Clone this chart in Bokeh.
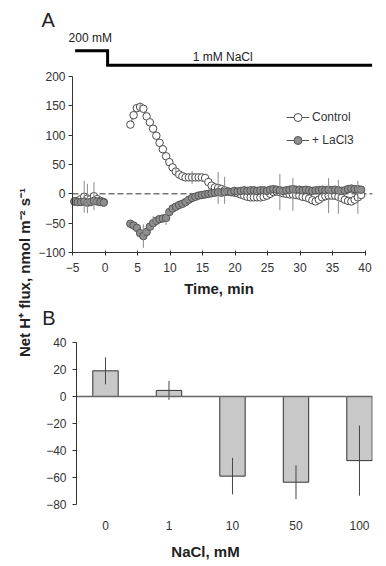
import numpy as np
from math import pi
from bokeh.plotting import figure
from bokeh.models import Range1d, FixedTicker, Label, Legend, LegendItem
from bokeh.layouts import row, column
from bokeh.core.properties import value
from bokeh.embed import file_html
from bokeh.resources import INLINE

FONT = "Liberation Sans"

# ---------------- Panel A data (time course) ----------------
time_pre = [-4.7, -4.2, -3.7, -3.2, -2.7, -2.2, -1.7, -1.2, -0.7, -0.2]
control_pre = [-13, -12, -9, -5, -8, -9, -4, -9, -12, -14]
lacl3_pre = [-13, -14, -14, -13, -15, -14, -12, -13, -14, -15]

time_post = [3.9, 4.4, 4.9, 5.4, 5.9, 6.4, 6.9, 7.4, 7.9, 8.4, 8.9, 9.4, 9.9, 10.4,
             10.9, 11.4, 11.9, 12.4, 12.9, 13.4, 13.9, 14.4, 14.9, 15.4, 15.9, 16.4,
             16.9, 17.4, 17.9, 18.4, 18.9, 19.4, 19.9, 20.4, 20.9, 21.4, 21.9, 22.4,
             22.9, 23.4, 23.9, 24.4, 24.9, 25.4, 25.9, 26.4, 26.9, 27.4, 27.9, 28.4,
             28.9, 29.4, 29.9, 30.4, 30.9, 31.4, 31.9, 32.4, 32.9, 33.4, 33.9, 34.4,
             34.9, 35.4, 35.9, 36.4, 36.9, 37.4, 37.9, 38.4, 38.9, 39.4]
control_post = [118, 134, 146, 148, 145, 132, 122, 111, 99, 87, 76, 64, 54, 45,
                38, 33, 30, 28, 28, 28, 28, 28, 28, 27, 20, 14,
                11, 10, 8, 6, 4, 3, 2, 1, -1, -3, -5, -6,
                -6, -6, -6, -5, -3, 0, 3, 4, 3, 1, 0, -1,
                -1, -2, -3, -5, -6, -8, -11, -13, -10, -6, -4, -3,
                -3, -3, -5, -7, -10, -12, -13, -10, -6, -2]
lacl3_post = [-51, -54, -58, -67, -72, -65, -56, -50, -46, -43, -42, -41, -31, -25,
              -22, -19, -17, -14, -10, -7, -5, -3, -2, -1, 0, 1,
              2, 3, 2, 3, 4, 3, 5, 4, 5, 6, 5, 6,
              6, 5, 6, 6, 5, 7, 8, 7, 6, 5, 6, 7,
              8, 7, 7, 6, 7, 6, 5, 6, 6, 7, 6, 7,
              6, 7, 6, 5, 6, 8, 9, 8, 8, 7]

# sparse error bars (time, SD)
control_err_time = [-3.2, -2.7, -1.7, 5.4, 10.9, 13.4, 17.4, 18.4, 26.9, 28.9, 34.4, 35.9, 38.9]
control_err_sd = [27, 25, 24, 8, 7, 11, 27, 23, 31, 28, 30, 29, 28]
lacl3_err_time = [5.9, 7.4, 9.4, 12.4]
lacl3_err_sd = [20, 12, 12, 8]

time_ticks = [-5, 0, 5, 10, 15, 20, 25, 30, 35, 40]
flux_ticks_a = [-100, -50, 0, 50, 100, 150, 200]

# treatment bar: 200 mM until t=0, then 1 mM NaCl
treat_t = [-4.6, 0.4, 0.4, 41.1]
treat_level = [244, 244, 219, 219]

# ---------------- Panel B data (bars) ----------------
nacl_mM = ["0", "1", "10", "50", "100"]
flux_b = [19, 4.5, -59, -63.5, -47.5]
flux_b_sd = [10, 7, 13.5, 12.5, 26]
flux_ticks_b = [-80, -60, -40, -20, 0, 20, 40]

AX = "#333333"
TXT = "#333333"


def style_axis(ax, size="12px"):
    ax.major_label_text_font = FONT
    ax.major_label_text_font_size = size
    ax.major_label_text_color = TXT
    ax.axis_line_color = AX
    ax.major_tick_line_color = AX
    ax.minor_tick_line_color = None
    ax.axis_label_text_font = FONT
    ax.axis_label_text_font_size = "15px"
    ax.axis_label_text_font_style = "bold"
    ax.axis_label_text_color = "#222222"


def with_gap(t, v):
    t = list(t); v = list(v)
    out_t, out_v = [t[0]], [v[0]]
    for i in range(1, len(t)):
        if t[i] - t[i - 1] > 1.5:
            out_t.append(np.nan); out_v.append(np.nan)
        out_t.append(t[i]); out_v.append(v[i])
    return out_t, out_v


def err_bars(t, v, et, esd):
    t = np.array(t, float)
    c = np.array([v[int(np.argmin(np.abs(t - x)))] for x in et], float)
    s = np.array(esd, float)
    return list(et), list(c - s), list(c + s)


# ---------------- Figure A ----------------
XA0, XA1 = -10.23, 41.15
pA = figure(width=340, height=302, x_range=Range1d(XA0, XA1), y_range=Range1d(-185.2, 329.5),
            output_backend="svg", toolbar_location=None,
            min_border_left=0, min_border_right=6, min_border_top=0, min_border_bottom=0,
            outline_line_color=None, background_fill_color="white", border_fill_color="white")
pA.grid.visible = False
pA.xaxis.ticker = FixedTicker(ticks=time_ticks)
pA.xaxis.bounds = (time_ticks[0], time_ticks[-1])
pA.xaxis.fixed_location = flux_ticks_a[0]
pA.yaxis.ticker = FixedTicker(ticks=flux_ticks_a)
pA.yaxis.bounds = (flux_ticks_a[0], flux_ticks_a[-1])
pA.yaxis.fixed_location = time_ticks[0]
style_axis(pA.xaxis[0]); style_axis(pA.yaxis[0])
pA.xaxis.axis_label = "Time, min"
pA.xaxis.major_tick_out = 3
pA.xaxis.major_tick_in = 2
pA.xaxis.major_label_standoff = 7
pA.xaxis.axis_label_standoff = 5
pA.yaxis.major_tick_out = 4
pA.yaxis.major_tick_in = 0
pA.yaxis.major_label_standoff = 3

# dashed zero line from the y axis to the right edge
pA.segment([time_ticks[0]], [0], [XA1], [0], line_color="#333333", line_width=1,
           line_dash="6 3")

all_t = time_pre + time_post
ctrl_v = control_pre + control_post
lacl_v = lacl3_pre + lacl3_post

lt, lv = with_gap(all_t, ctrl_v)
r_cl = pA.line(lt, lv, line_color="#555555", line_width=1)
lt2, lv2 = with_gap(all_t, lacl_v)
r_ll = pA.line(lt2, lv2, line_color="#555555", line_width=1)
r_cp = pA.scatter(all_t, ctrl_v, marker="circle", size=7.5, fill_color="white",
                  line_color="#4a4a4a", line_width=1)
r_lp = pA.scatter(all_t, lacl_v, marker="circle", size=7.5, fill_color="#8f8f8f",
                  line_color="#555555", line_width=1)

ex, e0, e1 = err_bars(all_t, ctrl_v, control_err_time, control_err_sd)
pA.segment(ex, e0, ex, e1, line_color="#8a8a8a", line_width=1)
ex, e0, e1 = err_bars(all_t, lacl_v, lacl3_err_time, lacl3_err_sd)
pA.segment(ex, e0, ex, e1, line_color="#8a8a8a", line_width=1)

pA.line(treat_t, treat_level, line_color="black", line_width=3, line_join="miter")

for txt, x, y, align, size in [("A", -9.77, 295.5, "left", "20px"),
                               ("200 mM", -5.6, 264.8, "left", "12px"),
                               ("1 mM NaCl", 18.1, 232.4, "center", "12px")]:
    pA.add_layout(Label(x=x, y=y, text=txt, text_align=align, text_baseline="middle",
                        text_font=FONT, text_font_size=size, text_color="#222222"))

legend = Legend(items=[LegendItem(label="Control", renderers=[r_cl, r_cp]),
                       LegendItem(label="+ LaCl3", renderers=[r_ll, r_lp])],
                location=(248, 152), margin=0, padding=0, spacing=3,
                glyph_width=23, glyph_height=20, label_height=20, label_standoff=3,
                label_text_font=FONT, label_text_font_size="12px", label_text_color=TXT,
                border_line_color=None, background_fill_alpha=0)
pA.add_layout(legend)

# ---------------- Figure B ----------------
pos = list(range(len(nacl_mM)))
XB0, XB1 = -1.055, 4.205
pB = figure(width=340, height=258, x_range=Range1d(XB0, XB1), y_range=Range1d(-121.5, 69.63),
            output_backend="svg", toolbar_location=None,
            min_border_left=0, min_border_right=6, min_border_top=0, min_border_bottom=0,
            outline_line_color=None, background_fill_color="white", border_fill_color="white")
pB.grid.visible = False
style_axis(pB.xaxis[0]); style_axis(pB.yaxis[0])
pB.xaxis.ticker = FixedTicker(ticks=pos)
pB.xaxis.major_label_overrides = {i: s for i, s in zip(pos, nacl_mM)}
pB.xaxis.fixed_location = flux_ticks_b[0]
pB.xaxis.axis_line_color = None
pB.xaxis.major_tick_line_color = None
pB.xaxis.major_label_standoff = 11
pB.xaxis.axis_label = "NaCl, mM"
pB.xaxis.axis_label_standoff = 9
pB.yaxis.ticker = FixedTicker(ticks=flux_ticks_b)
pB.yaxis.bounds = (flux_ticks_b[0], flux_ticks_b[-1])
pB.yaxis.fixed_location = -0.4567
pB.yaxis.major_tick_out = 4
pB.yaxis.major_tick_in = 0
pB.yaxis.major_label_standoff = 6

pB.vbar(x=pos, top=flux_b, bottom=0, width=0.4, fill_color="#c8c8c8",
        line_color="#333333", line_width=1)
lo = [m - s for m, s in zip(flux_b, flux_b_sd)]
hi = [m + s for m, s in zip(flux_b, flux_b_sd)]
pB.segment(pos, lo, pos, hi, line_color="#444444", line_width=1)
pB.segment([-0.4567], [0], [XB1], [0], line_color="#666666", line_width=1.5)
pB.add_layout(Label(x=-0.997, y=57.8, text="B", text_align="left", text_baseline="middle",
                    text_font=FONT, text_font_size="20px", text_color="#222222"))

# ---------------- shared y label ----------------
pL = figure(width=38, height=560, x_range=Range1d(0, 38), y_range=Range1d(0, 560),
            x_axis_type=None, y_axis_type=None, output_backend="svg", toolbar_location=None,
            min_border=0, outline_line_color=None)
pL.grid.visible = False
pL.text(x=[24], y=[288], text=["Net H\u207a flux, nmol m\u207b\u00b2 s\u207b\u00b9"], angle=pi / 2,
        text_align="center", text_baseline="middle", text_font=value(FONT),
        text_font_size="15px", text_font_style="bold", text_color="#222222")

layout = row(pL, column(pA, pB))
open("out.html", "w").write(file_html(layout, INLINE, "chart"))
